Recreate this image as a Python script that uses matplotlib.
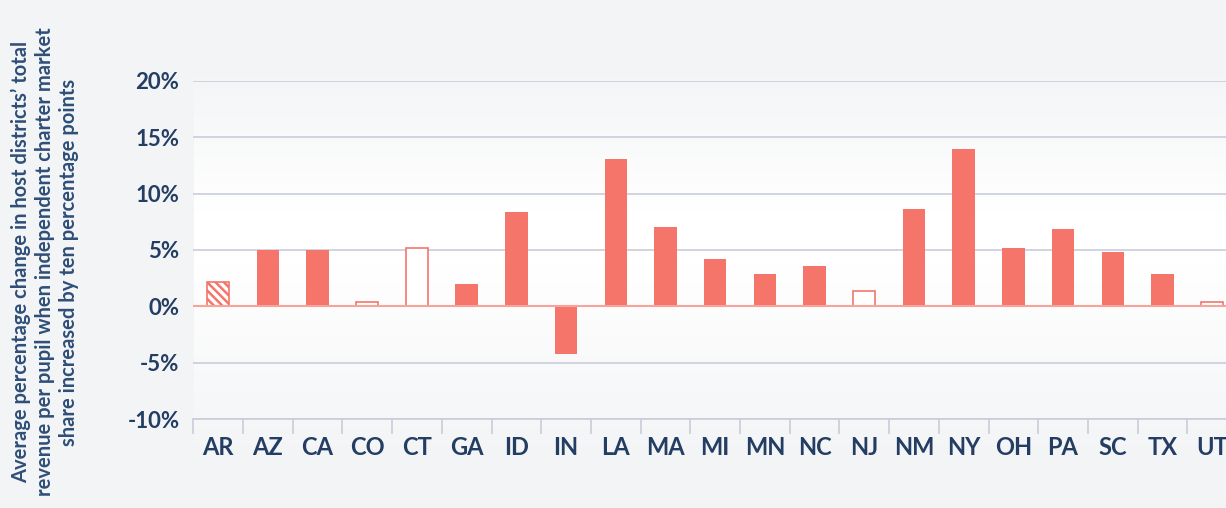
import matplotlib
matplotlib.use('Agg')
import matplotlib.pyplot as plt
import numpy as np

# data
states = ['AR', 'AZ', 'CA', 'CO', 'CT', 'GA', 'ID', 'IN', 'LA', 'MA', 'MI',
          'MN', 'NC', 'NJ', 'NM', 'NY', 'OH', 'PA', 'SC', 'TX', 'UT']
values = [2.2, 5.0, 5.0, 0.4, 5.2, 2.0, 8.4, -4.2, 13.1, 7.0, 4.2,
          2.9, 3.6, 1.4, 8.6, 14.0, 5.2, 6.9, 4.8, 2.9, 0.4]
# 'solid', 'hollow', 'hatch'
styles = ['hatch', 'solid', 'solid', 'hollow', 'hollow', 'solid', 'solid', 'solid', 'solid', 'solid', 'solid',
          'solid', 'solid', 'hollow', 'solid', 'solid', 'solid', 'solid', 'solid', 'solid', 'hollow']
yticks = [-10, -5, 0, 5, 10, 15, 20]

bar_col = '#f5756b'
text_col = '#233d63'
grid_col = '#c9cdda'
bg = '#f3f4f6'

plt.rcParams['font.family'] = ['Lato', 'DejaVu Sans']
plt.rcParams['hatch.linewidth'] = 1.8

fig = plt.figure(figsize=(12.26, 5.08), dpi=100, facecolor=bg)

# gradient panel behind the plot
bgax = fig.add_axes([194/1226, (508-465)/508, 1.0, (465-61)/508], zorder=0)
grad = np.concatenate([np.linspace(0, 1, 60), np.ones(20), np.linspace(1, 0, 80)])
c0 = np.array(matplotlib.colors.to_rgb(bg))
c1 = np.array([1.0, 1.0, 1.0])
img = c0[None, :] * (1 - grad[:, None]) + c1[None, :] * grad[:, None]
bgax.imshow(img[:, None, :], aspect='auto', extent=[0, 1, 0, 1])
bgax.axis('off')

ax = fig.add_axes([193.3/1226, (508-419)/508, (1237-193.3)/1226, 338/508], zorder=1)
ax.patch.set_alpha(0)

x = np.arange(len(states))
for xi, v, s in zip(x, values, styles):
    if s == 'solid':
        ax.bar(xi, v, width=0.45, color=bar_col, zorder=3)
    elif s == 'hollow':
        ax.bar(xi, v, width=0.45, facecolor='white', edgecolor=bar_col, linewidth=1.2, zorder=3)
    else:
        ax.bar(xi, v, width=0.45, facecolor='white', edgecolor=bar_col, hatch='\\\\\\\\', linewidth=1.2, zorder=3)

ax.axhline(0, color='#f7a39c', linewidth=1.5, zorder=4)
ax.set_xlim(-0.5, len(states) - 0.5)
ax.set_ylim(-10, 20)
ax.set_yticks(yticks)
ax.set_yticklabels([f'{t}%' for t in yticks])
ax.yaxis.grid(True, color=grid_col, linewidth=1.2, zorder=0)
ax.set_axisbelow(True)

ax.set_xticks(x)
ax.set_xticklabels(states)
ax.set_xticks(np.arange(len(states) + 1) - 0.5, minor=True)
ax.tick_params(axis='x', which='major', length=0, pad=12, labelsize=17, labelcolor=text_col)
ax.tick_params(axis='x', which='minor', length=11, color=grid_col, width=1.2)
ax.tick_params(axis='y', length=0, pad=10, labelsize=16, labelcolor=text_col)
for lab in ax.get_xticklabels() + ax.get_yticklabels():
    lab.set_fontweight('bold')

for sp in ['top', 'right', 'left']:
    ax.spines[sp].set_visible(False)
ax.spines['bottom'].set_color(grid_col)
ax.spines['bottom'].set_linewidth(1.2)

fig.text(45/1226, (508-262)/508,
         'Average percentage change in host districts\u2019 total\n'
         'revenue per pupil when independent charter market\n'
         'share increased by ten percentage points',
         rotation=90, ha='center', va='center', multialignment='center',
         fontsize=14.5, fontweight='bold', color='#2f4f78', linespacing=1.25)

fig.savefig('out.png', dpi=100, facecolor=bg)
